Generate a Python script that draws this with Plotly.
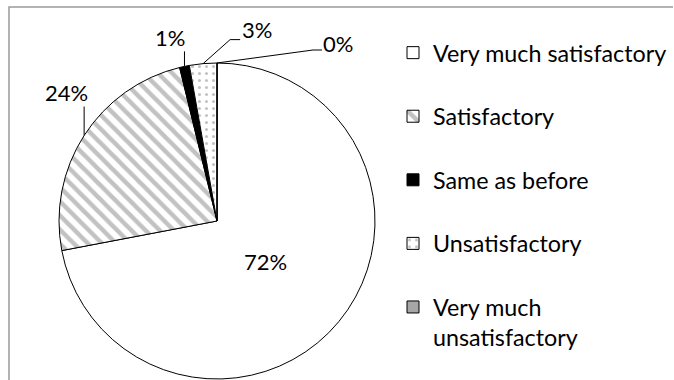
import math
import plotly.graph_objects as go

# ---- data ----
categories = ["Very much satisfactory", "Satisfactory", "Same as before",
              "Unsatisfactory", "Very much unsatisfactory"]
values = [72.0, 24.2, 1.0, 2.8, 0.0]
legend_names = ["Very much satisfactory", "Satisfactory", "Same as before",
                "Unsatisfactory", "Very much<br>unsatisfactory"]

# ---- styling / layout ----
W, H = 674, 380
CX, CY, R = 217, 221, 158          # pie centre and radius in pixels
FONT = "Lato"
fill_colors = ["white", "white", "black", "white", "#a6a6a6"]
pat_shapes = ["", "\\", "", ".", ""]
pat_sizes = [8, 10, 8, 7, 8]
pat_solid = [0.5, 0.45, 0.5, 0.15, 0.5]

# label placement: text centre offset and leader-line elbows (pixels) relative to anchor
label_cfg = [
    dict(inside=True, rr=0.4),
    dict(inside=False, elbows=[(0, -29)], text=(-18, -43)),
    dict(inside=False, elbows=[(0, -15)], text=(-14, -29)),
    dict(inside=False, elbows=[(27, -24), (37, -24)], text=(54, -34)),
    dict(inside=False, elbows=[(96, -13), (105, -13)], text=(121, -20)),
]

total = sum(values)
fracs = [v / total for v in values]


def px_point(frac, rr):
    th = frac * 2 * math.pi
    return CX + rr * math.sin(th), CY - rr * math.cos(th)


def to_paper(px, py):
    return px / W, 1 - py / H


# legend names padded (blank second line) to give Excel-like spacing
PAD = "<br>&nbsp;"
legend_labels = [n if "<br>" in n else n + PAD for n in legend_names]

fig = go.Figure(go.Pie(
    labels=legend_labels,
    values=values,
    sort=False,
    direction="clockwise",
    rotation=0,
    textinfo="none",
    hoverinfo="skip",
    marker=dict(
        colors=fill_colors,
        line=dict(color="black", width=1),
        pattern=dict(shape=pat_shapes, fgcolor="#858585", bgcolor=fill_colors,
                     size=pat_sizes, solidity=pat_solid, fillmode="overlay"),
    ),
    domain=dict(x=[(CX - R) / W, (CX + R) / W], y=[1 - (CY + R) / H, 1 - (CY - R) / H]),
))

# chart-area frame: left and top edges visible in the crop
fx, fy = to_paper(9, 7)
shapes = [dict(type="path", xref="paper", yref="paper",
               path=f"M {fx:.5f},-0.1 L {fx:.5f},{fy:.5f} L {673 / W:.5f},{fy:.5f}",
               line=dict(color="#9a9a9a", width=1.5), layer="below")]
annotations = []
cum = 0.0
for f, cfg in zip(fracs, label_cfg):
    mid = cum + f / 2
    cum += f
    label = f"{round(f * 100):.0f}%"
    if cfg["inside"]:
        tx, ty = px_point(mid, R * cfg["rr"])
    else:
        ax, ay = px_point(mid, R)
        pts = [(ax, ay)] + [(ax + dx, ay + dy) for dx, dy in cfg["elbows"]]
        path = "M " + " L ".join(f"{to_paper(x, y)[0]:.5f},{to_paper(x, y)[1]:.5f}" for x, y in pts)
        shapes.append(dict(type="path", xref="paper", yref="paper", path=path,
                           line=dict(color="black", width=1)))
        tx, ty = ax + cfg["text"][0], ay + cfg["text"][1]
    px_, py_ = to_paper(tx, ty)
    annotations.append(dict(x=px_, y=py_, xref="paper", yref="paper", text=label,
                            showarrow=False, xanchor="center", yanchor="middle",
                            font=dict(family=FONT, size=22, color="black")))

fig.update_layout(
    width=W, height=H,
    margin=dict(l=0, r=0, t=0, b=0, autoexpand=False),
    paper_bgcolor="white",
    plot_bgcolor="white",
    font=dict(family=FONT, color="black"),
    shapes=shapes,
    annotations=annotations,
    showlegend=True,
    legend=dict(x=393 / W, y=1 - 31 / H, xanchor="left", yanchor="top",
                valign="top", font=dict(family=FONT, size=23.3, color="black"),
                bgcolor="rgba(0,0,0,0)", borderwidth=0),
)

fig.write_html("out.html")
